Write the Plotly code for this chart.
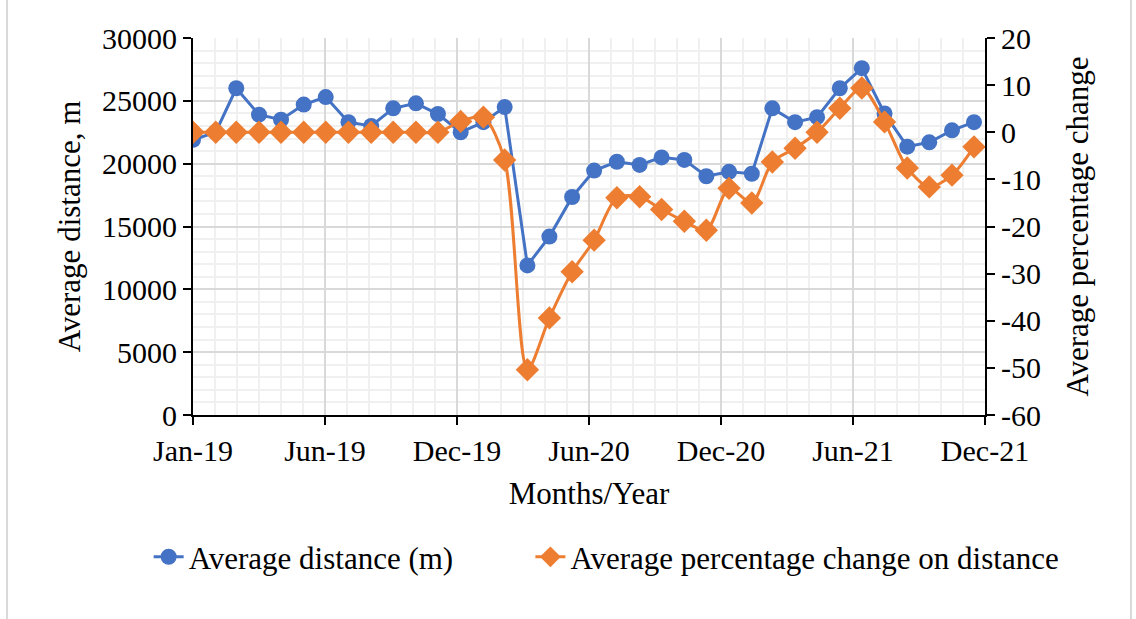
import pandas as pd
import plotly.graph_objects as go

# Monthly series, Jan 2019 - Dec 2021
months = pd.date_range("2019-01-01", "2021-12-01", freq="MS")

avg_distance_m = [
    21900, 22500, 26000, 23900, 23500, 24700, 25300, 23300, 23000, 24400, 24800, 23950,
    22500, 23300, 24500, 11900, 14200, 17350, 19450, 20150, 19900, 20500, 20300, 19000,
    19350, 19200, 24400, 23300, 23700, 26000, 27600, 24000, 21350, 21700, 22650, 23300,
]

avg_pct_change = [
    0, 0, 0, 0, 0, 0, 0, 0, 0, 0, 0, 0,
    2.3, 3.2, -5.9, -50.4, -39.4, -29.6, -22.9, -13.9, -13.7, -16.4, -18.9, -20.8,
    -11.9, -15.0, -6.3, -3.4, 0.0, 5.1, 9.4, 2.2, -7.6, -11.6, -9.1, -3.1,
]

# Right-axis tick values and labels (plain hyphen for negatives)
pct_ticks = [-60, -50, -40, -30, -20, -10, 0, 10, 20]
pct_tick_text = [str(v) for v in pct_ticks]

BLUE = "#4472C4"
ORANGE = "#ED7D31"
FONT = "Liberation Serif, Times New Roman, serif"
TICK_SIZE = 30
TITLE_SIZE = 31
DAY_MS = 86400000

fig = go.Figure()

fig.add_trace(go.Scatter(
    x=months, y=avg_distance_m, name="Average distance (m)",
    mode="lines+markers",
    line=dict(color=BLUE, width=3),
    marker=dict(symbol="circle", size=16, color=BLUE),
    yaxis="y", legend="legend",
))

fig.add_trace(go.Scatter(
    x=months, y=avg_pct_change, name="Average percentage change on distance",
    mode="lines+markers",
    line=dict(color=ORANGE, width=3, shape="spline", smoothing=0.8),
    marker=dict(symbol="diamond", size=18, color=ORANGE),
    yaxis="y2", legend="legend2",
))

axis_common = dict(
    showline=True, linecolor="black", linewidth=2,
    ticks="outside", ticklen=8, tickwidth=2, tickcolor="black",
    tickfont=dict(family=FONT, size=TICK_SIZE, color="black"),
    zeroline=False,
)

legend_common = dict(
    orientation="h", xanchor="left", y=-0.377, yanchor="middle",
    font=dict(family=FONT, size=TITLE_SIZE, color="black"),
    bgcolor="rgba(0,0,0,0)",
)

fig.update_layout(
    width=1136, height=619,
    margin=dict(l=193, r=151, t=38, b=204),
    paper_bgcolor="white", plot_bgcolor="white",
    font=dict(family=FONT, size=TICK_SIZE, color="black"),
    showlegend=True,
    legend=dict(**legend_common, x=-0.056),
    legend2=dict(**legend_common, x=0.426),
    xaxis=dict(
        **axis_common,
        type="date",
        range=["2019-01-01", "2021-12-16"],
        tick0="2019-01-01", dtick=180 * DAY_MS, tickformat="%b-%y",
        showgrid=True, gridcolor="#d9d9d9", gridwidth=2,
        minor=dict(tick0="2019-01-01", dtick=30 * DAY_MS, showgrid=True,
                   gridcolor="#f0f0f0", gridwidth=2, ticks=""),
        title=dict(text="Months/Year", standoff=16,
                   font=dict(family=FONT, size=TITLE_SIZE, color="black")),
    ),
    yaxis=dict(
        **axis_common,
        range=[0, 30000], dtick=5000, tickformat="d",
        showgrid=True, gridcolor="#d9d9d9", gridwidth=2,
        minor=dict(dtick=1000, showgrid=True, gridcolor="#f0f0f0", gridwidth=2, ticks=""),
        title=dict(text="Average distance, m", standoff=12,
                   font=dict(family=FONT, size=TITLE_SIZE, color="black")),
    ),
    yaxis2=dict(
        **axis_common,
        overlaying="y", side="right",
        range=[-60, 20], tickmode="array", tickvals=pct_ticks, ticktext=pct_tick_text,
        showgrid=False,
        title=dict(text="Average percentage change", standoff=26,
                   font=dict(family=FONT, size=TITLE_SIZE, color="black")),
    ),
    shapes=[dict(
        type="rect", xref="paper", yref="paper",
        x0=-0.2348, x1=1.1843, y0=-0.56, y1=1.1406,
        line=dict(color="#d9d9d9", width=2), fillcolor="rgba(0,0,0,0)",
        layer="below",
    )],
)

fig.write_html("out.html")
